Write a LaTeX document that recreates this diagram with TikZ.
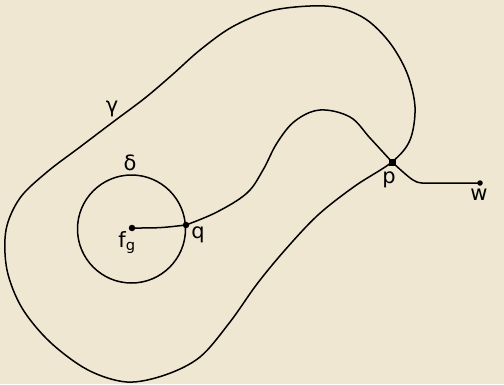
\documentclass[tikz,border=0pt]{standalone}
\usepackage{fontspec}
\setmainfont{DejaVu Sans}
\usetikzlibrary{arrows.meta,positioning}
\definecolor{paper}{RGB}{239,231,210}

\begin{document}
\begin{tikzpicture}[x=1pt, y=-1pt, line width=1.5pt, line join=round,
    lbl/.style={font=\fontsize{21}{23}\selectfont, inner sep=0pt, anchor=base},
    dot/.style={circle, fill, inner sep=0pt, minimum size=6.5pt}]
    % 背景与边界
    \fill[paper] (0,0) rectangle (504,384);
    \useasboundingbox (0,0) rectangle (504,384);

    % 点
    \node[dot] (fg) at (132,228) {};
    \node[dot] (q) at (186,225) {};
    \node[rectangle, fill, inner sep=0pt, minimum size=7pt] (p) at (392,162) {};
    \node[dot, minimum size=5.5pt] (w) at (480,183) {};

    % 曲线 gamma
    \draw plot[smooth cycle, tension=0.55] coordinates {
        (310,6) (270,11) (232,27) (200,50) (172,75) (145,98) (113,122)
        (80,147) (47,172) (20,198) (6,230) (7,270) (22,308) (50,342)
        (88,370) (127,382) (165,375) (200,357) (230,322) (257,284)
        (285,250) (318,215) (355,186) (p.center) (410,140) (415,107)
        (407,73) (390,43) (367,20) (340,8)};

    % 圆 delta
    \draw (131.5,229) circle (54);

    % fg -- q -- p -- w
    \draw (fg.center) .. controls (160,228) .. (q.center);
    \draw plot[smooth, tension=0.6] coordinates {
        (q.center) (217,212) (247,193) (263,170) (277,143) (295,121)
        (320,110) (350,117) (370,138) (p.center)};
    \draw plot[smooth, tension=0.5] coordinates {
        (p.center) (403,172) (413,180) (422,183) (447,183) (w.center)};

    % 标注
    \node[lbl] (gammalbl) at (112,112) {γ};
    \node[lbl] (deltalbl) at (130,170) {δ};
    \node[lbl] (fglbl) at (127,247) {f\textsubscript{g}};
    \node[lbl] (qlbl) at (198,238) {q};
    \node[lbl] (plbl) at (389,183) {p};
    \node[lbl] (wlbl) at (479,200) {w};
\end{tikzpicture}
\end{document}
